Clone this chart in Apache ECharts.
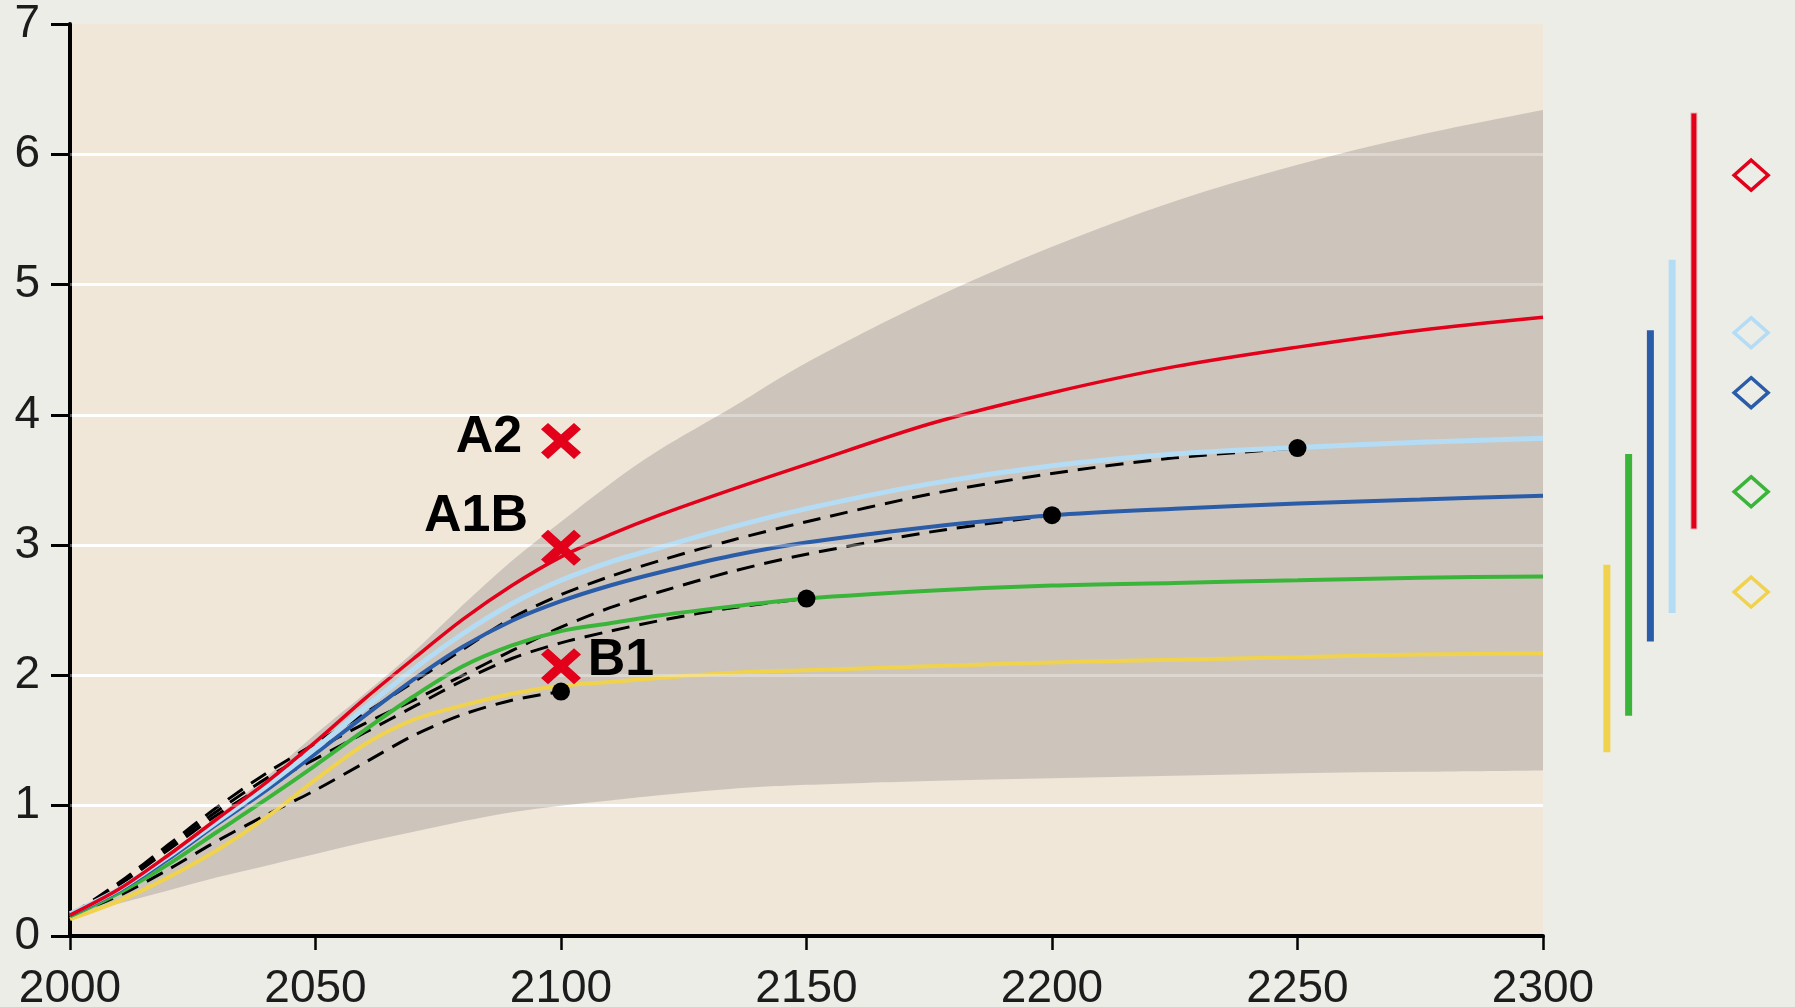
<!DOCTYPE html>
<html>
<head>
<meta charset="utf-8">
<script src="https://cdn.jsdelivr.net/npm/echarts@6/dist/echarts.min.js"></script>
<style>
html,body{margin:0;padding:0;background:#edede8;}
#c{width:1795px;height:1007px;}
</style>
</head>
<body>
<div id="c"></div>
<script>
// ---- data ----
const years = [2000,2010,2020,2030,2040,2050,2060,2070,2080,2090,2100,2110,2120,2135,2150,2175,2200,2225,2250,2275,2300];
const xTicks = [2000,2050,2100,2150,2200,2250,2300];
const yTicks = [0,1,2,3,4,5,6,7];

const red       = [.16,.36,.62,.90,1.18,1.49,1.82,2.13,2.43,2.69,2.91,3.08,3.23,3.43,3.62,3.93,4.17,4.37,4.52,4.65,4.75];
const lightBlue = [.17,.36,.61,.88,1.15,1.44,1.75,2.05,2.32,2.55,2.73,2.87,2.98,3.14,3.28,3.47,3.61,3.70,3.75,3.79,3.82];
const blue      = [.16,.35,.59,.86,1.12,1.40,1.69,1.97,2.22,2.42,2.57,2.69,2.79,2.92,3.02,3.14,3.23,3.28,3.32,3.35,3.38];
const green     = [.15,.33,.55,.80,1.05,1.31,1.58,1.84,2.07,2.23,2.34,2.40,2.46,2.53,2.59,2.65,2.69,2.71,2.73,2.75,2.76];
const yellow    = [.13,.27,.45,.66,.91,1.20,1.47,1.66,1.77,1.86,1.92,1.95,1.98,2.02,2.04,2.07,2.10,2.12,2.14,2.16,2.17];

const dashA = [.16,.31,.51,.73,.93,1.12,1.33,1.54,1.70,1.81,1.876];
const dashB = [.16,.39,.66,.93,1.16,1.36,1.56,1.76,1.96,2.13,2.25,2.34,2.42,2.52,2.59];
const dashC = [.16,.40,.68,.96,1.21,1.43,1.63,1.81,2.00,2.19,2.37,2.52,2.64,2.80,2.93,3.10,3.23];
const dashD = [.16,.41,.70,.99,1.25,1.48,1.71,1.95,2.20,2.44,2.62,2.76,2.88,3.04,3.18,3.39,3.55,3.67,3.745];

const bandUpper = [.16,.36,.63,.92,1.22,1.55,1.86,2.18,2.54,2.88,3.18,3.47,3.73,4.06,4.40,4.88,5.29,5.64,5.92,6.15,6.34];
const bandLower = [.16,.25,.35,.45,.54,.63,.72,.80,.88,.95,1.00,1.04,1.08,1.13,1.16,1.19,1.21,1.23,1.25,1.26,1.27];

const endYears  = [2100,2150,2200,2250];
const endValues = [1.876,2.59,3.23,3.745];

const crossNames  = ['A2','A1B','B1'];
const crossYear   = 2100;
const crossValues = [3.80,2.98,2.07];

const rangeCats = ['yellow','green','blue','lightblue','red','','','best'];
const rangeLow  = [1.41,1.69,2.26,2.48,3.12];
const rangeHigh = [2.85,3.70,4.65,5.19,6.32];
const bestEst   = [2.64,3.41,4.17,4.63,5.84];

// ---- styles ----
const COLORS = ['#f0d24c','#3ab53a','#2a5ca8','#b4dcf5','#e2001a'];
const FONT = "'Liberation Sans', Arial, Helvetica, sans-serif";
const pair = (xs, ys) => ys.map((v,i)=>[xs[i], v]);

const colorSeries = [
  {name:'red', data:red, color:COLORS[4], w:3.5},
  {name:'lightBlue', data:lightBlue, color:COLORS[3], w:5},
  {name:'blue', data:blue, color:COLORS[2], w:4},
  {name:'green', data:green, color:COLORS[1], w:4},
  {name:'yellow', data:yellow, color:COLORS[0], w:4}
];
const dashSeries = [dashA, dashB, dashC, dashD];
const crossOffsets = [[-72,-3],[-85,-31],[60,-6]];

const crossPath = 'path://M3.5,0 L10,6.5 L16.5,0 L20,3.5 L13.5,10 L20,16.5 L16.5,20 L10,13.5 L3.5,20 L0,16.5 L6.5,10 L0,3.5 Z';

// smooth path segments (Catmull-Rom -> cubic Bezier) through pixel points
function smoothSegs(pts){
  let d = '';
  const n = pts.length;
  for (let i = 0; i < n-1; i++){
    const p0 = pts[Math.max(i-1,0)], p1 = pts[i], p2 = pts[i+1], p3 = pts[Math.min(i+2,n-1)];
    const c1 = [p1[0]+(p2[0]-p0[0])/6, p1[1]+(p2[1]-p0[1])/6];
    const c2 = [p2[0]-(p3[0]-p1[0])/6, p2[1]-(p3[1]-p1[1])/6];
    d += ' C' + c1[0].toFixed(2)+','+c1[1].toFixed(2)+' '+c2[0].toFixed(2)+','+c2[1].toFixed(2)+' '+p2[0].toFixed(2)+','+p2[1].toFixed(2);
  }
  return d;
}

const series = [];
// uncertainty band
series.push({
  type:'custom', xAxisIndex:0, yAxisIndex:0, z:2, silent:true,
  data: pair(years, bandUpper),
  renderItem: function(params, api){
    if (params.dataIndex !== 0) return null;
    const up = years.map((y,i)=>api.coord([y, bandUpper[i]]));
    const lo = years.map((y,i)=>api.coord([y, bandLower[i]])).reverse();
    let d = 'M' + up[0][0] + ',' + up[0][1] + smoothSegs(up);
    d += ' L' + lo[0][0] + ',' + lo[0][1] + smoothSegs(lo) + ' Z';
    return {type:'path', shape:{pathData:d}, style:{fill:'#cdc5bc'}};
  }
});
// faint gridline overlay on top of the band
series.push({
  type:'line', xAxisIndex:0, yAxisIndex:0, z:2.5, silent:true, symbol:'none',
  data: pair(years, bandLower), lineStyle:{width:0, opacity:0},
  markLine:{
    silent:true, symbol:'none', animation:false,
    label:{show:false},
    lineStyle:{color:'rgba(255,255,255,0.32)', width:3, type:'solid'},
    data: yTicks.filter(v=>v>0 && v<7).map(v=>({yAxis:v}))
  }
});
// dashed lines
dashSeries.forEach(d=>{
  series.push({
    type:'line', xAxisIndex:0, yAxisIndex:0, smooth:0.3, symbol:'none', z:3,
    data: pair(years, d),
    lineStyle:{color:'#000', width:3, type:[18,10]}
  });
});
// colored curves
colorSeries.slice().reverse().forEach(s=>{
  series.push({
    type:'line', xAxisIndex:0, yAxisIndex:0, smooth:0.3, symbol:'none', z:4,
    data: pair(years, s.data),
    lineStyle:{color:s.color, width:s.w}
  });
});
// end dots
series.push({
  type:'scatter', xAxisIndex:0, yAxisIndex:0, z:6, symbol:'circle', symbolSize:18,
  itemStyle:{color:'#000', opacity:1},
  data: pair(endYears, endValues)
});
// red crosses with labels
series.push({
  type:'scatter', xAxisIndex:0, yAxisIndex:0, z:7, symbol:crossPath, symbolSize:[40,36],
  itemStyle:{color:'#e2001a', opacity:1},
  data: crossNames.map((n,i)=>({
    name:n, value:[crossYear, crossValues[i]],
    label:{show:true, position:'inside', offset:crossOffsets[i], formatter:'{b}',
      color:'#000', fontFamily:FONT, fontWeight:'bold', fontSize:52}
  }))
});
// right-hand ranges
series.push({
  type:'bar', xAxisIndex:1, yAxisIndex:1, stack:'rng', barWidth:7, silent:true,
  itemStyle:{color:'rgba(0,0,0,0)'},
  data: rangeLow
});
series.push({
  type:'bar', xAxisIndex:1, yAxisIndex:1, stack:'rng', barWidth:7, silent:true,
  data: rangeHigh.map((v,i)=>({
    value: v-rangeLow[i],
    itemStyle: i===4 ? {color:COLORS[i], borderColor:'rgba(226,0,26,0.25)', borderWidth:2}
                     : {color:COLORS[i]}
  }))
});
series.push({
  type:'scatter', xAxisIndex:1, yAxisIndex:1, symbol:'diamond', symbolSize:[34,30], symbolOffset:[-8,0],
  data: bestEst.map((v,i)=>({
    value:[rangeCats.length-1, v],
    itemStyle:{color:'#edede8', borderColor:COLORS[i], borderWidth:3.5, opacity:1}
  }))
});

const option = {
  animation:false,
  backgroundColor:'#edede8',
  grid:[
    {left:70, right:252, top:24, bottom:71, show:true, backgroundColor:'#f0e7d8', borderWidth:0, z:0,
     containLabel:false, outerBoundsMode:'none'},
    {left:1596, width:174, top:24, bottom:71, show:false, containLabel:false, outerBoundsMode:'none'}
  ],
  xAxis:[
    {type:'value', gridIndex:0, min:xTicks[0], max:xTicks[xTicks.length-1], interval:50,
     axisLine:{show:true, onZero:false, lineStyle:{color:'#000', width:4}},
     axisTick:{show:true, length:14, lineStyle:{color:'#000', width:2.5}},
     axisLabel:{color:'#1c1c1c', fontSize:46, fontFamily:FONT, margin:30, formatter:v=>String(v)},
     splitLine:{show:false}},
    {type:'category', gridIndex:1, data:rangeCats, show:false}
  ],
  yAxis:[
    {type:'value', gridIndex:0, min:yTicks[0], max:yTicks[yTicks.length-1], interval:1,
     axisLine:{show:true, lineStyle:{color:'#000', width:4}},
     axisTick:{show:true, length:19, lineStyle:{color:'#000', width:3}},
     axisLabel:{color:'#1c1c1c', fontSize:46, fontFamily:FONT, margin:30},
     splitLine:{show:true, showMinLine:false, showMaxLine:false, lineStyle:{color:'#ffffff', width:3}}},
    {type:'value', gridIndex:1, min:yTicks[0], max:yTicks[yTicks.length-1], show:false}
  ],
  series: series
};
echarts.init(document.getElementById('c')).setOption(option);
</script>
</body>
</html>
